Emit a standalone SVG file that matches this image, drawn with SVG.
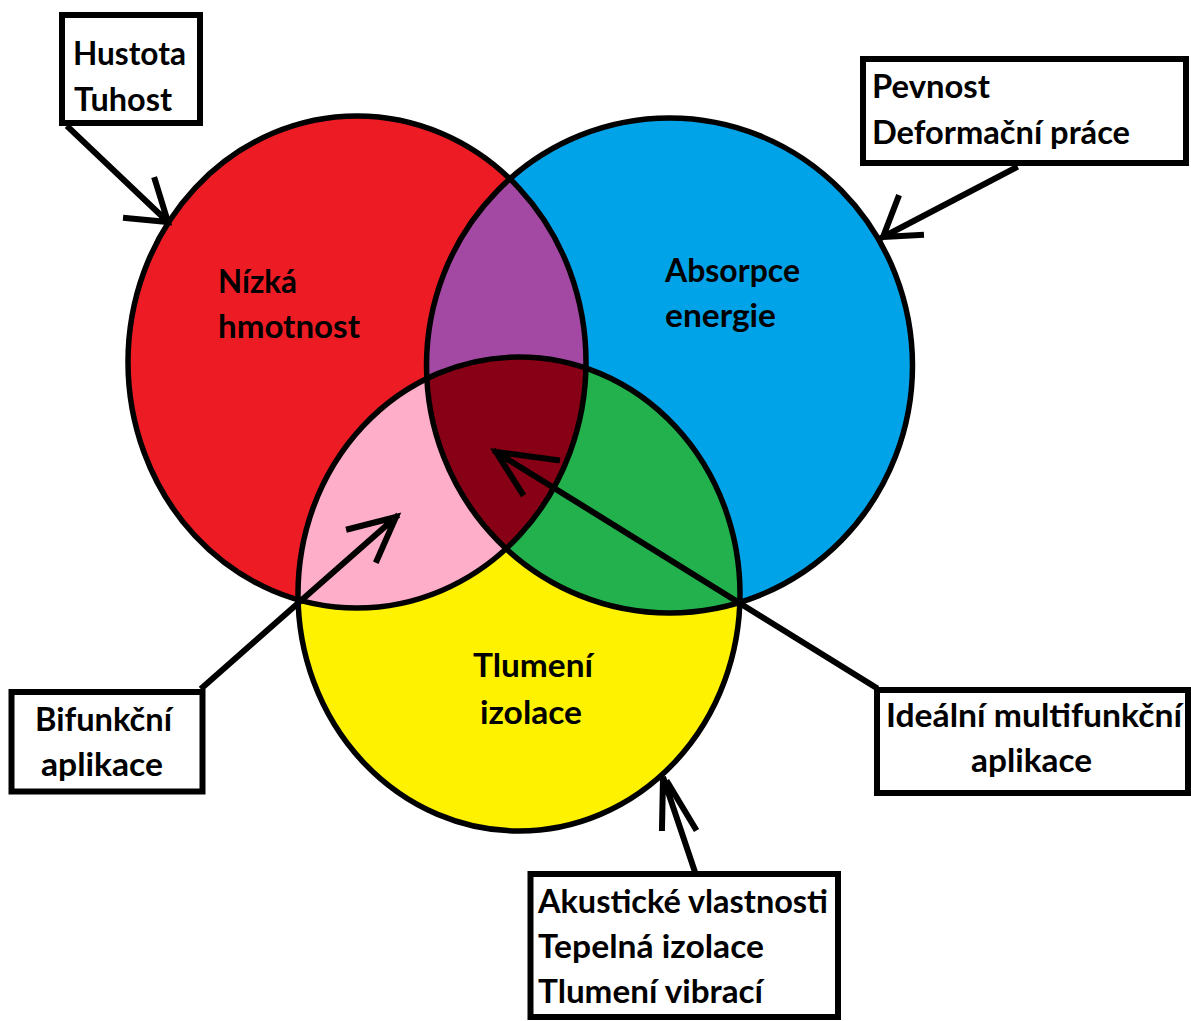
<svg xmlns="http://www.w3.org/2000/svg" width="1191" height="1021" viewBox="0 0 1191 1021">
<style>
.c{fill:none;stroke:#000;stroke-width:5.5}
.box{fill:#fff;stroke:#000;stroke-width:6}
.t{font-family:Lato,"Open Sans","Liberation Sans",sans-serif;font-weight:bold;font-size:32px;fill:#000}
.ln{fill:none;stroke:#000;stroke-width:6;stroke-linecap:square;stroke-linejoin:miter}
</style>
<defs>
<ellipse id="eR" cx="357" cy="362" rx="229" ry="246"/>
<ellipse id="eB" cx="669.5" cy="365.5" rx="243" ry="247.5"/>
<ellipse id="eY" cx="519" cy="594" rx="221" ry="237"/>
<clipPath id="cR"><use href="#eR"/></clipPath>
<clipPath id="cB"><use href="#eB"/></clipPath>
<clipPath id="cY"><use href="#eY"/></clipPath>
</defs>
<rect width="1191" height="1021" fill="#fff"/>
<g id="fills">
<use href="#eR" fill="#ED1C24"/>
<use href="#eB" fill="#00A2E8"/>
<use href="#eY" fill="#FFF200"/>
<use href="#eB" fill="#A349A4" clip-path="url(#cR)"/>
<use href="#eY" fill="#FFAEC9" clip-path="url(#cR)"/>
<use href="#eY" fill="#22B14C" clip-path="url(#cB)"/>
<g clip-path="url(#cR)"><use href="#eY" fill="#880015" clip-path="url(#cB)"/></g>
</g>
<g id="n-nizka-hmotnost">
<use href="#eR" class="c"/>
<text class="t" x="218" y="293" textLength="79" lengthAdjust="spacingAndGlyphs">Nízká</text>
<text class="t" x="218" y="338" textLength="142" lengthAdjust="spacingAndGlyphs">hmotnost</text>
</g>
<g id="n-absorpce-energie">
<use href="#eB" class="c"/>
<text class="t" x="665" y="282" textLength="135" lengthAdjust="spacingAndGlyphs">Absorpce</text>
<text class="t" x="665" y="327" textLength="111" lengthAdjust="spacingAndGlyphs">energie</text>
</g>
<g id="n-tlumeni-izolace">
<use href="#eY" class="c"/>
<text class="t" x="473" y="677" textLength="120" lengthAdjust="spacingAndGlyphs">Tlumení</text>
<text class="t" x="480" y="724" textLength="102" lengthAdjust="spacingAndGlyphs">izolace</text>
</g>
<g id="connectors">
<path class="ln" d="M69 128 L168 222 M155 180 L168 222 L126 218"/>
<path class="ln" d="M1015 168 L883 237 M898 198 L883 237 L921 235"/>
<path class="ln" d="M203 687 L396 517 M349 529 L396 517 L377 560"/>
<path class="ln" d="M875 687 L496 452 M557 460 L496 452 L522 493"/>
<path class="ln" d="M694 869 L663 777 L662 828 M668 783 L695 828"/>
</g>
<g id="n-hustota">
<rect class="box" x="62" y="15" width="138" height="108"/>
<text class="t" x="73" y="65" textLength="113" lengthAdjust="spacingAndGlyphs">Hustota</text>
<text class="t" x="74" y="111" textLength="98" lengthAdjust="spacingAndGlyphs">Tuhost</text>
</g>
<g id="n-pevnost">
<rect class="box" x="863" y="59" width="323" height="104"/>
<text class="t" x="872" y="98" textLength="118" lengthAdjust="spacingAndGlyphs">Pevnost</text>
<text class="t" x="872" y="144" textLength="258" lengthAdjust="spacingAndGlyphs">Deformační práce</text>
</g>
<g id="n-bifunkcni">
<rect class="box" x="11.5" y="692" width="191" height="99.5"/>
<text class="t" x="35" y="731" textLength="137" lengthAdjust="spacingAndGlyphs">Bifunkční</text>
<text class="t" x="41" y="776" textLength="122" lengthAdjust="spacingAndGlyphs">aplikace</text>
</g>
<g id="n-idealni">
<rect class="box" x="877" y="690" width="311" height="103"/>
<text class="t" x="886" y="727" textLength="296" lengthAdjust="spacingAndGlyphs">Ideální multifunkční</text>
<text class="t" x="971" y="772" textLength="121" lengthAdjust="spacingAndGlyphs">aplikace</text>
</g>
<g id="n-akusticke">
<rect class="box" x="530.5" y="874" width="307.5" height="143"/>
<text class="t" x="538" y="913" textLength="290" lengthAdjust="spacingAndGlyphs">Akustické vlastnosti</text>
<text class="t" x="538" y="958" textLength="226" lengthAdjust="spacingAndGlyphs">Tepelná izolace</text>
<text class="t" x="538" y="1003" textLength="225" lengthAdjust="spacingAndGlyphs">Tlumení vibrací</text>
</g>
</svg>
